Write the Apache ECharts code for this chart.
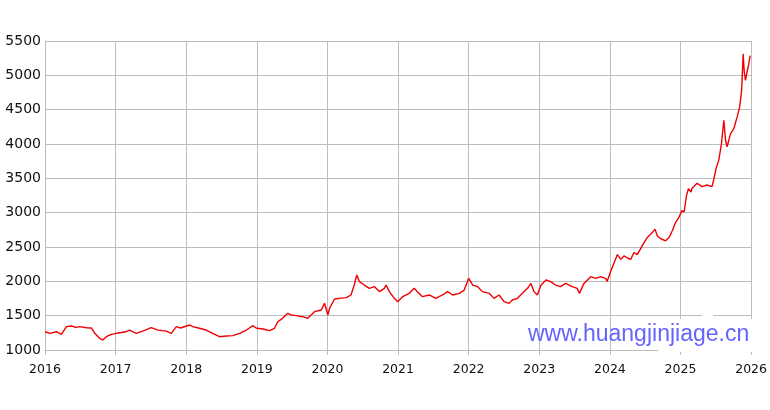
<!DOCTYPE html>
<html>
<head>
<meta charset="utf-8">
<script src="https://cdn.jsdelivr.net/npm/echarts@6/dist/echarts.min.js"></script>
<style>
html,body{margin:0;padding:0;background:#fff;}
#chart{width:770px;height:410px;}
</style>
</head>
<body>
<div id="chart"></div>
<script>
// Tick labels
const xTicks = [2016, 2017, 2018, 2019, 2020, 2021, 2022, 2023, 2024, 2025, 2026];
const yTicks = [1000, 1500, 2000, 2500, 3000, 3500, 4000, 4500, 5000, 5500];

// Dates of the sampled points
const dates = [
"2016-01-01","2016-01-26","2016-02-29","2016-03-26","2016-04-21","2016-05-17","2016-06-09","2016-06-29",
"2016-08-03","2016-08-29","2016-09-15","2016-10-10","2016-10-27","2016-11-14","2016-12-10",
"2017-01-05","2017-02-01","2017-02-27","2017-03-14","2017-04-18","2017-05-21","2017-07-04","2017-08-08",
"2017-09-20","2017-10-16","2017-11-11","2017-12-03",
"2018-01-02","2018-01-19","2018-02-04","2018-03-10","2018-04-14","2018-05-18","2018-06-22","2018-07-27",
"2018-08-30","2018-10-04","2018-11-08","2018-12-12","2018-12-30",
"2019-02-02","2019-03-07","2019-04-02","2019-04-19","2019-05-14","2019-06-10","2019-06-27","2019-07-23",
"2019-08-26","2019-09-21","2019-10-26","2019-11-30","2019-12-17",
"2020-01-03","2020-01-12","2020-01-21","2020-02-07","2020-03-03","2020-04-07","2020-05-02","2020-05-19",
"2020-06-01","2020-06-15","2020-07-10","2020-08-05","2020-09-01","2020-09-27","2020-10-22","2020-10-31",
"2020-11-17","2020-12-13","2020-12-30",
"2021-01-25","2021-02-28","2021-03-25","2021-04-11","2021-05-07","2021-06-11","2021-07-15","2021-08-19",
"2021-09-14","2021-10-10","2021-11-14","2021-12-09",
"2022-01-01","2022-01-22","2022-02-17","2022-03-13","2022-04-17","2022-05-12","2022-06-07","2022-07-03",
"2022-07-29","2022-08-15","2022-09-10","2022-10-06","2022-11-01","2022-11-19","2022-12-05","2022-12-22",
"2023-01-10","2023-02-05","2023-03-01","2023-03-26","2023-04-21","2023-05-17","2023-06-20","2023-07-16",
"2023-07-28","2023-08-20","2023-09-24","2023-10-19","2023-11-15","2023-12-10","2023-12-18",
"2024-01-06","2024-01-23","2024-02-09","2024-02-27","2024-03-14","2024-04-01","2024-04-18","2024-05-05",
"2024-05-22","2024-06-17","2024-07-13","2024-08-08","2024-08-22","2024-09-03","2024-09-21","2024-10-16",
"2024-11-03","2024-11-20","2024-12-07","2024-12-24",
"2025-01-08","2025-01-20","2025-02-01","2025-02-11","2025-02-24","2025-03-02","2025-03-11","2025-03-28",
"2025-04-23","2025-05-18","2025-06-13","2025-06-22","2025-07-04","2025-07-18","2025-08-01","2025-08-13",
"2025-08-22","2025-08-30","2025-09-17","2025-10-04","2025-10-21","2025-11-03","2025-11-13","2025-11-21",
"2025-11-26","2025-12-03","2025-12-11","2025-12-20","2025-12-27"
];

// Price values
const prices = [
1266,1243,1266,1228,1340,1350,1330,1340,
1325,1320,1243,1170,1146,1194,1228,
1243,1255,1270,1290,1243,1275,1325,1290,
1275,1243,1340,1320,
1350,1364,1340,1316,1291,1243,1194,1204,
1209,1243,1291,1354,1316,
1306,1282,1316,1412,1461,1534,1510,1500,
1485,1461,1558,1582,1680,
1510,1606,1655,1743,1752,1762,1801,1946,
2092,1995,1946,1898,1922,1850,1898,1946,
1850,1752,1703,
1777,1825,1898,1850,1777,1801,1752,1801,
1850,1801,1825,1873,
2044,1946,1922,1850,1825,1752,1801,1704,
1679,1728,1752,1825,1898,1970,1850,1801,
1946,2019,1995,1946,1922,1970,1922,1898,
1825,1970,2068,2044,2068,2044,2000,
2150,2270,2390,2320,2370,2340,2320,2420,
2390,2520,2640,2710,2760,2660,2620,2590,
2640,2740,2860,2930,
3030,3010,3250,3350,3300,3355,3370,3427,
3380,3403,3380,3480,3645,3765,4007,4345,
4055,3958,4152,4225,4395,4540,4780,5312,
5070,4925,5045,5166,5287
];

function toYear(s) {
  const p = s.split('-').map(Number);
  const y = p[0];
  const t = Date.UTC(y, p[1] - 1, p[2]);
  const a = Date.UTC(y, 0, 1), b = Date.UTC(y + 1, 0, 1);
  return y + (t - a) / (b - a);
}

const seriesData = dates.map((d, i) => [toYear(d), prices[i]]);

const chart = echarts.init(document.getElementById('chart'), null, {renderer: 'canvas'});
const gridColor = '#bdbdbd';
chart.setOption({
  animation: false,
  backgroundColor: '#ffffff',
  grid: {left: 45, right: 18, top: 41, bottom: 60, containLabel: false},
  xAxis: {
    type: 'value',
    min: xTicks[0], max: xTicks[xTicks.length - 1], interval: 1,
    axisLine: {show: true, lineStyle: {color: gridColor, width: 1}},
    axisTick: {show: true, length: 5, lineStyle: {color: gridColor}},
    splitLine: {show: true, lineStyle: {color: gridColor, width: 1}},
    axisLabel: {
      color: '#111', fontFamily: 'DejaVu Sans', fontSize: 12.5, margin: 13,
      formatter: v => String(v)
    }
  },
  yAxis: {
    type: 'value',
    min: yTicks[0], max: yTicks[yTicks.length - 1], interval: 500,
    axisLine: {show: true, lineStyle: {color: gridColor, width: 1}},
    axisTick: {show: false},
    splitLine: {show: true, lineStyle: {color: gridColor, width: 1}},
    axisLabel: {
      color: '#111', fontFamily: 'DejaVu Sans', fontSize: 14, margin: 4,
      formatter: v => String(v)
    }
  },
  series: [{
    type: 'line',
    data: seriesData,
    showSymbol: false,
    symbol: 'none',
    lineStyle: {color: '#f00000', width: 1.4},
    z: 3
  }],
  graphic: [
    {type: 'rect', shape: {x: 658, y: 319, width: 96, height: 33}, style: {fill: '#ffffff'}, z: 50},
    {type: 'rect', shape: {x: 702, y: 313, width: 11, height: 5}, style: {fill: '#ffffff'}, z: 50},
    {type: 'text', x: 528, y: 335, z: 60,
     style: {text: 'www.huangjinjiage.cn', fill: '#6464ff', font: '23px "Liberation Sans", Arial, sans-serif',
             textAlign: 'left', textVerticalAlign: 'middle'}}
  ]
});
</script>
</body>
</html>
